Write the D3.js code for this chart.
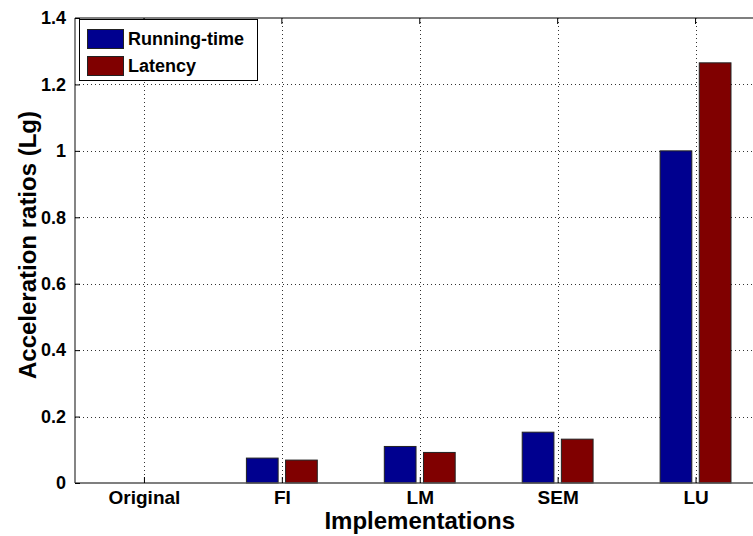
<!DOCTYPE html>
<html><head><meta charset="utf-8">
<script src="https://cdn.jsdelivr.net/npm/d3@7"></script>
<style>body{margin:0;background:#fff}svg{display:block}text{font-family:"Liberation Sans",Arial,sans-serif;font-weight:bold;fill:#000}</style>
</head><body>
<script>
const categories = ["Original", "FI", "LM", "SEM", "LU"];
const seriesNames = ["Running-time", "Latency"];
const runningTime = [0, 0.075, 0.11, 0.153, 1.0];
const latency = [0, 0.069, 0.092, 0.132, 1.265];
const yTicks = [0, 0.2, 0.4, 0.6, 0.8, 1, 1.2, 1.4];
const colors = ["#00008F", "#800000"];

const W = 753, H = 536;
const svg = d3.select("body").append("svg").attr("width", W).attr("height", H);
const x = d3.scaleLinear().domain([0.5, 5.5]).range([75, 764.5]);
const y = d3.scaleLinear().domain([0, 1.4]).range([483, 18]);
const unit = x(2) - x(1);
const barW = 0.23 * unit, off = 0.142 * unit;

const g = svg.append("g");
// grid
g.selectAll(".hg").data(yTicks.slice(1, -1)).enter().append("line")
  .attr("x1", x(0.5)).attr("x2", x(5.5)).attr("y1", d => Math.round(y(d)) + 0.5).attr("y2", d => Math.round(y(d)) + 0.5)
  .attr("stroke", "#333").attr("stroke-width", 1).attr("stroke-dasharray", "1,3");
g.selectAll(".vg").data(categories).enter().append("line")
  .attr("x1", (d, i) => Math.round(x(i + 1)) + 0.5).attr("x2", (d, i) => Math.round(x(i + 1)) + 0.5)
  .attr("y1", y(1.4)).attr("y2", y(0))
  .attr("stroke", "#333").attr("stroke-width", 1).attr("stroke-dasharray", "1,3");

// bars
const series = [runningTime, latency];
series.forEach((vals, s) => {
  g.selectAll(".b" + s).data(vals).enter().append("rect")
    .attr("x", (d, i) => x(i + 1) + (s === 0 ? -off : off) - barW / 2)
    .attr("width", barW)
    .attr("y", d => y(d))
    .attr("height", d => y(0) - y(d))
    .attr("fill", colors[s]).attr("stroke", "#222").attr("stroke-width", 1);
});

// axes box
svg.append("line").attr("x1", x(0.5)).attr("x2", x(5.5)).attr("y1", y(0)).attr("y2", y(0)).attr("stroke", "#555").attr("stroke-width", 1.5);
svg.append("line").attr("x1", x(0.5)).attr("x2", x(5.5)).attr("y1", y(1.4)).attr("y2", y(1.4)).attr("stroke", "#555").attr("stroke-width", 1.5);
svg.append("line").attr("x1", x(0.5)).attr("x2", x(0.5)).attr("y1", y(0)).attr("y2", y(1.4)).attr("stroke", "#333").attr("stroke-width", 1.2);

// y axis ticks and labels
const yAxis = d3.axisLeft(y).tickValues(yTicks).tickSizeInner(-5).tickSizeOuter(0).tickPadding(9)
  .tickFormat(d => d3.format("")(d));
const ya = svg.append("g").attr("transform", `translate(${x(0.5)},0)`).call(yAxis);
ya.select(".domain").remove();
ya.selectAll("line").attr("stroke", "#000");
ya.selectAll("text").style("font-size", "18px").style("font-family", '"Liberation Sans",Arial,sans-serif').style("font-weight", "bold").attr("fill", "#000");

// x axis ticks and labels
const xAxis = d3.axisBottom(x).tickValues([1, 2, 3, 4, 5]).tickSizeInner(-6).tickSizeOuter(0).tickPadding(8)
  .tickFormat(d => categories[d - 1]);
const xa = svg.append("g").attr("transform", `translate(0,${y(0)})`).call(xAxis);
xa.select(".domain").remove();
xa.selectAll("line").attr("stroke", "#000");
xa.selectAll("text").style("font-size", "19px").style("font-family", '"Liberation Sans",Arial,sans-serif').style("font-weight", "bold").attr("fill", "#000");
// top ticks
svg.selectAll(".tt").data([1, 2, 3, 4, 5]).enter().append("line")
  .attr("x1", d => x(d)).attr("x2", d => x(d)).attr("y1", y(1.4)).attr("y2", y(1.4) + 6).attr("stroke", "#000");

// axis titles
svg.append("text").attr("x", x(3)).attr("y", 529).attr("text-anchor", "middle").style("font-size", "24px").text("Implementations");
svg.append("text").attr("transform", `translate(36,245) rotate(-90)`).attr("text-anchor", "middle").style("font-size", "24px").text("Acceleration ratios (Lg)");

// legend
const lg = svg.append("g");
lg.append("rect").attr("x", 79.5).attr("y", 19.5).attr("width", 178).attr("height", 61).attr("fill", "#fff").attr("stroke", "#000");
seriesNames.forEach((n, i) => {
  lg.append("rect").attr("x", 87.5).attr("y", 29.5 + i * 27).attr("width", 36).attr("height", 19).attr("fill", colors[i]).attr("stroke", "#222");
  lg.append("text").attr("x", 128).attr("y", 45 + i * 27).style("font-size", "18px").text(n);
});
</script>
</body></html>
